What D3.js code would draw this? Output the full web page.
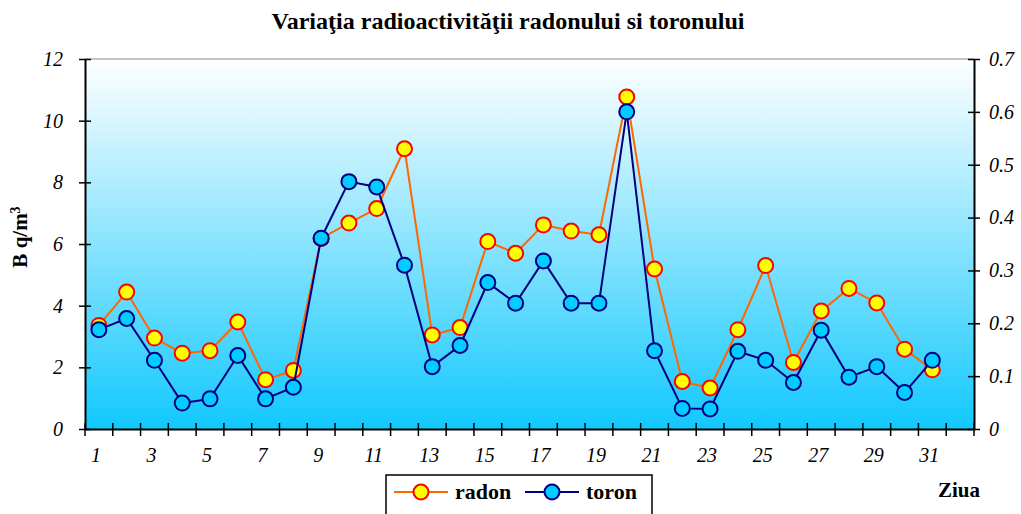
<!DOCTYPE html>
<html><head><meta charset="utf-8">
<script src="https://cdn.jsdelivr.net/npm/d3@7"></script>
<style>body{margin:0;background:#fff}svg{display:block}</style>
</head><body>
<svg id="c" width="1021" height="514"></svg>
<script>
const days = d3.range(1, 33); // 32 slots, data for 1..31
const xTickLabels = [1,3,5,7,9,11,13,15,17,19,21,23,25,27,29,31];
const radon = [3.36,4.44,2.95,2.46,2.54,3.47,1.60,1.90,6.18,6.68,7.15,9.09,3.05,3.29,6.08,5.70,6.62,6.42,6.30,10.77,5.19,1.54,1.33,3.22,5.30,2.16,3.83,4.56,4.09,2.59,1.92];
const toron = [0.188,0.209,0.130,0.049,0.057,0.139,0.057,0.079,0.361,0.468,0.458,0.310,0.118,0.158,0.277,0.238,0.318,0.238,0.238,0.600,0.148,0.039,0.038,0.147,0.130,0.088,0.187,0.098,0.118,0.069,0.130];
const leftTicks = [0,2,4,6,8,10,12];
const rightTicks = [0,0.1,0.2,0.3,0.4,0.5,0.6,0.7];

const svg = d3.select("#c");
const L = 85, R = 974, T = 59, B = 429;
const x = d3.scaleBand().domain(days).range([L, R]);
const yL = d3.scaleLinear().domain([0, 12]).range([B, T]);
const yR = d3.scaleLinear().domain([0, 0.7]).range([B, T]);

const defs = svg.append("defs");
const g = defs.append("linearGradient").attr("id","bg").attr("x1",0).attr("y1",0).attr("x2",0).attr("y2",1);
g.append("stop").attr("offset","0%").attr("stop-color","#ffffff");
g.append("stop").attr("offset","100%").attr("stop-color","#12c8fd");

svg.append("rect").attr("x",L).attr("y",T).attr("width",R-L).attr("height",B-T).attr("fill","url(#bg)");
svg.append("line").attr("x1",L).attr("x2",R).attr("y1",T).attr("y2",T).attr("stroke","#888").attr("stroke-width",1);

const serif = "'Liberation Serif','Times New Roman',serif";

// Title
svg.append("text").attr("x",508).attr("y",29).attr("text-anchor","middle")
  .attr("font-family",serif).attr("font-weight","bold").attr("font-size",23)
  .attr("textLength",473).attr("lengthAdjust","spacingAndGlyphs")
  .text("Variaţia radioactivităţii radonului si toronului");

// Axes
const axL = d3.axisLeft(yL).tickValues(leftTicks).tickSizeInner(6).tickSizeOuter(0).tickFormat(d3.format("d"));
const gL = svg.append("g").attr("transform",`translate(${L},0)`).call(axL);
gL.selectAll(".tick line").attr("x1",6).attr("x2",-6);
const axR = d3.axisRight(yR).tickValues(rightTicks).tickSizeInner(6).tickSizeOuter(0).tickFormat(d => d===0?"0":d3.format(".1f")(d));
const gR = svg.append("g").attr("transform",`translate(${R},0)`).call(axR);
gR.selectAll(".tick line").attr("x1",-6).attr("x2",6);
const axB = d3.axisBottom(x).tickSizeInner(6).tickSizeOuter(0).tickFormat(d => xTickLabels.includes(d) ? d : "");
const gB = svg.append("g").attr("transform",`translate(0,${B})`).call(axB);
// band boundary ticks
gB.selectAll(".tick").remove();
const bounds = d3.range(0, days.length + 1).map(i => L + i * x.step());
gB.selectAll("line.bt").data(bounds).join("line").attr("class","bt")
  .attr("x1",d=>d).attr("x2",d=>d).attr("y1",-6).attr("y2",7).attr("stroke","#000").attr("stroke-width",1.5);
gB.selectAll("text.bl").data(days.filter(d => xTickLabels.includes(d))).join("text").attr("class","bl")
  .attr("x",d=>x(d)+x.bandwidth()/2 - 3).attr("y",33).attr("text-anchor","middle").text(d=>d);

[gL,gR,gB].forEach(a=>{
  a.selectAll(".domain").attr("stroke","#000").attr("stroke-width",2);
  a.selectAll(".tick line").attr("stroke","#000").attr("stroke-width",1.5);
  a.selectAll("text").attr("font-family",serif).attr("font-style","italic").attr("font-size",20).attr("fill","#000");
});
gL.selectAll(".tick text").attr("x",-22);
gR.selectAll(".tick text").attr("x",15);

// axis titles
svg.append("text").attr("transform","translate(27,237) rotate(-90)").attr("text-anchor","middle")
  .attr("font-family",serif).attr("font-weight","bold").attr("font-size",21)
  .html('B q/m<tspan baseline-shift="super" font-size="14">3</tspan>');
svg.append("text").attr("x",959).attr("y",497).attr("text-anchor","middle")
  .attr("font-family",serif).attr("font-weight","bold").attr("font-size",21).text("Ziua");

const cx = (d,i) => x(days[i]) + x.bandwidth()/2;

// radon
svg.append("path").datum(radon).attr("fill","none").attr("stroke","#ff6600").attr("stroke-width",2)
  .attr("d", d3.line().x(cx).y(d=>yL(d)));
svg.selectAll("circle.r").data(radon).join("circle").attr("class","r")
  .attr("cx",cx).attr("cy",d=>yL(d)).attr("r",7.5).attr("fill","#ffff00").attr("stroke","#ff0000").attr("stroke-width",2);
// toron
svg.append("path").datum(toron).attr("fill","none").attr("stroke","#000080").attr("stroke-width",2)
  .attr("d", d3.line().x(cx).y(d=>yR(d)));
svg.selectAll("circle.t").data(toron).join("circle").attr("class","t")
  .attr("cx",cx).attr("cy",d=>yR(d)).attr("r",7.5).attr("fill","#00ccff").attr("stroke","#000080").attr("stroke-width",2);

// legend
const lg = svg.append("g");
lg.append("rect").attr("x",386).attr("y",475).attr("width",266).attr("height",50).attr("fill","#fff").attr("stroke","#000").attr("stroke-width",1.5);
const items = [{name:"radon", x0:394, line:"#ff6600", fill:"#ffff00", stroke:"#ff0000"},
               {name:"toron", x0:525, line:"#000080", fill:"#00ccff", stroke:"#000080"}];
items.forEach(it=>{
  lg.append("line").attr("x1",it.x0).attr("x2",it.x0+54).attr("y1",492).attr("y2",492).attr("stroke",it.line).attr("stroke-width",2);
  lg.append("circle").attr("cx",it.x0+27).attr("cy",492).attr("r",7.5).attr("fill",it.fill).attr("stroke",it.stroke).attr("stroke-width",2);
  lg.append("text").attr("x",it.x0+61).attr("y",499).attr("font-family",serif).attr("font-weight","bold").attr("font-size",22).text(it.name);
});
</script>
</body></html>
